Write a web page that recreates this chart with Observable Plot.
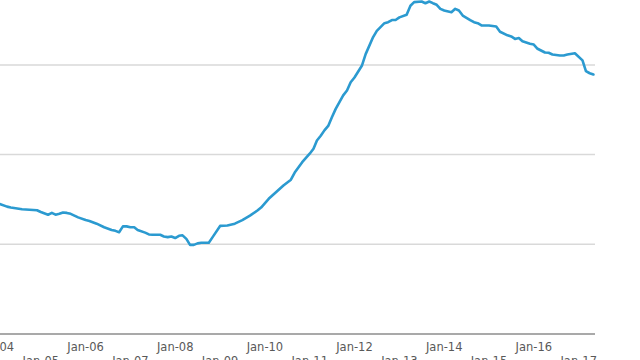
<!DOCTYPE html>
<html>
<head>
<meta charset="utf-8">
<script src="https://cdn.jsdelivr.net/npm/d3@7"></script>
<script src="https://cdn.jsdelivr.net/npm/@observablehq/plot@0.6"></script>
<style>
  html, body { margin: 0; padding: 0; background: #fff; }
  #chart { position: relative; width: 640px; height: 360px; overflow: hidden; }
</style>
</head>
<body>
<div id="chart"></div>
<script>
const months = [
  "2004-02","2004-04","2004-05","2004-08","2004-10","2004-12",
  "2005-01","2005-03","2005-04","2005-05","2005-06","2005-07","2005-08","2005-09","2005-11",
  "2006-01","2006-02","2006-04","2006-06","2006-08","2006-09","2006-10","2006-11","2006-12",
  "2007-01","2007-02","2007-03","2007-05","2007-06","2007-07","2007-09","2007-10","2007-11","2007-12",
  "2008-01","2008-02","2008-03","2008-04","2008-05","2008-06","2008-07","2008-08","2008-10","2008-11",
  "2009-01","2009-03","2009-05","2009-07","2009-09","2009-11","2009-12",
  "2010-02","2010-04","2010-06","2010-08","2010-09","2010-11",
  "2011-01","2011-02","2011-03","2011-04","2011-05","2011-06","2011-07","2011-08","2011-10","2011-11","2011-12",
  "2012-01","2012-03","2012-04","2012-06","2012-07","2012-09","2012-10","2012-11","2012-12",
  "2013-01","2013-03","2013-04","2013-05","2013-07","2013-08","2013-09","2013-10","2013-11","2013-12",
  "2014-01","2014-03","2014-04","2014-05","2014-06","2014-08","2014-09","2014-10","2014-11",
  "2015-01","2015-03","2015-04","2015-06","2015-07","2015-08","2015-09","2015-10","2015-12",
  "2016-01","2016-02","2016-04","2016-05","2016-06","2016-08","2016-09","2016-10","2016-12",
  "2017-02","2017-03","2017-04","2017-05"
];
const values = [
  145,142,141,139,138.5,138,
  136,133,135,133,134,135.5,135,134,130,
  127,126,123,119,116,115,113.5,120,120,
  119,119,116,113,111,110.6,110.6,108.7,108,108.7,
  107,109.5,110,106,99.4,99.4,101,101.7,101.7,108,
  120.5,121,123,127,132,137.7,141,
  150.7,158,165.6,172,180,191.5,
  201,206.5,215.7,221,227,232,241.7,251,266,271.5,280.7,
  286,299,312,331,338,346.5,347.6,350,350,
  353,356,366,370,370.7,368.8,370.7,368.8,367,362.5,
  360.6,358.7,362.5,360.6,355,350,347.6,346.5,344,
  344,342.8,337,333,331.7,329,330,326.4,323.5,
  322.7,318,313.8,313.5,311.6,310.5,310.5,311.6,313,
  305,293,290.7,289.3
];
const gridValues = [100, 200, 300];
const tickMonths = ["2004-01","2005-01","2006-01","2007-01","2008-01","2009-01","2010-01",
                    "2011-01","2012-01","2013-01","2014-01","2015-01","2016-01","2017-01"];
const tickLabels = ["Jan-04","Jan-05","Jan-06","Jan-07","Jan-08","Jan-09","Jan-10",
                    "Jan-11","Jan-12","Jan-13","Jan-14","Jan-15","Jan-16","Jan-17"];

const parse = d3.utcParse("%Y-%m");
const data = months.map((m, i) => ({date: parse(m), value: values[i]}));
const ticks = tickMonths.map((m, i) => ({date: parse(m), label: tickLabels[i], row: i % 2}));

const chart = Plot.plot({
  width: 680,
  height: 360,
  marginLeft: 35.4,
  marginRight: 45,
  marginTop: 0,
  marginBottom: 26.5,
  style: {maxWidth: "none", marginLeft: "-40px", background: "#fff", fontFamily: "DejaVu Sans, Verdana, sans-serif"},
  x: {type: "utc", domain: [parse("2004-01"), new Date(Date.UTC(2017, 4, 18))], axis: null},
  y: {domain: [0, 371.8], axis: null},
  marks: [
    Plot.ruleY(gridValues, {stroke: "#d9d9d9", strokeWidth: 1.5}),
    Plot.ruleY([0], {stroke: "#8c8c8c", strokeWidth: 1.5}),
    Plot.line(data, {x: "date", y: "value", stroke: "#2b9ad0", strokeWidth: 2.6, curve: "linear"}),
    Plot.text(ticks.filter(d => d.row === 0), {x: "date", text: "label", frameAnchor: "bottom", lineAnchor: "top", dy: 8.8, fontSize: 11.5, fill: "#595959", letterSpacing: "0.4px"}),
    Plot.text(ticks.filter(d => d.row === 1), {x: "date", text: "label", frameAnchor: "bottom", lineAnchor: "top", dy: 23.2, fontSize: 11.5, fill: "#595959", letterSpacing: "0.4px"})
  ]
});
document.getElementById("chart").appendChild(chart);
</script>
</body>
</html>
